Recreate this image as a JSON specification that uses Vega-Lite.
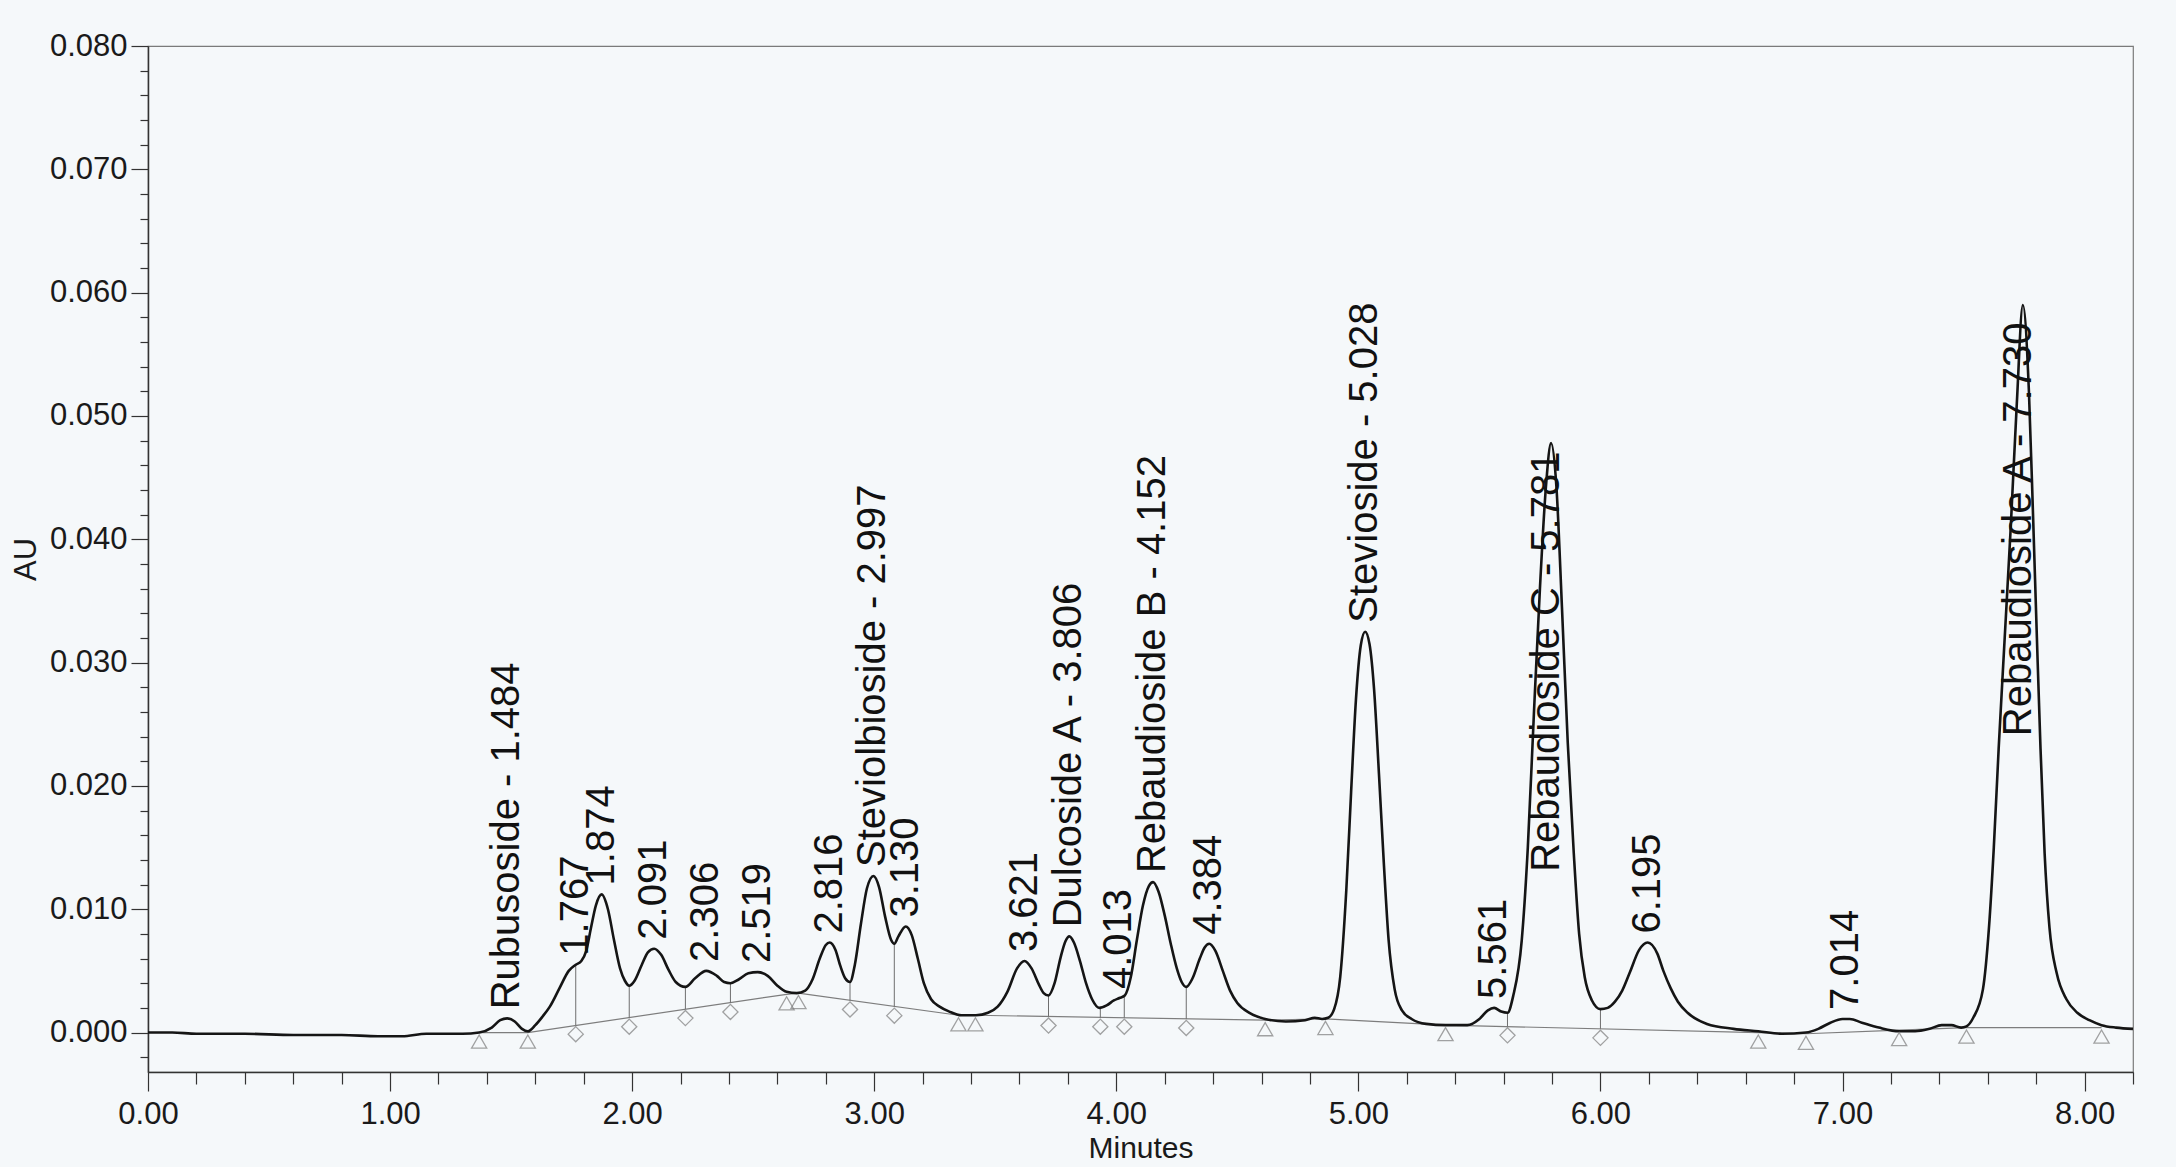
{
  "$schema": "https://vega.github.io/schema/vega-lite/v6.json",
  "width": 1985,
  "height": 1026,
  "autosize": {"type": "none"},
  "padding": {"left": 148, "top": 46, "right": 43, "bottom": 95},
  "background": "#f5f8fa",
  "config": {
    "view": {"stroke": "#7a7a7a", "strokeWidth": 1.2},
    "font": "Liberation Sans",
    "axis": {"grid": false, "labelFont": "Liberation Sans", "titleFont": "Liberation Sans", "labelColor": "#1a1a1a", "titleColor": "#1a1a1a", "domainColor": "#333333", "tickColor": "#333333", "labelFlush": false, "labelOverlap": false, "labelBound": false, "titleFontWeight": "normal"}
  },
  "datasets": {
    "trace": [
      {"t":0.00,"au":0.0000},{"t":0.10,"au":0.0000},{"t":0.20,"au":-0.0001},{"t":0.40,"au":-0.0001},{"t":0.60,"au":-0.0002},{"t":0.80,"au":-0.0002},{"t":0.95,"au":-0.0003},{"t":1.05,"au":-0.0003},{"t":1.15,"au":-0.0001},{"t":1.30,"au":-0.0001},{"t":1.368,"au":0.0000},{"t":1.42,"au":0.0004},{"t":1.455,"au":0.0010},{"t":1.484,"au":0.00115},{"t":1.515,"au":0.0009},{"t":1.545,"au":0.0003},{"t":1.569,"au":0.0001},{"t":1.60,"au":0.0006},{"t":1.63,"au":0.0013},{"t":1.66,"au":0.0021},{"t":1.70,"au":0.0036},{"t":1.738,"au":0.0050},{"t":1.767,"au":0.0055},{"t":1.79,"au":0.0058},{"t":1.81,"au":0.0066},{"t":1.83,"au":0.0085},{"t":1.85,"au":0.0103},{"t":1.874,"au":0.0112},{"t":1.90,"au":0.0100},{"t":1.925,"au":0.0075},{"t":1.95,"au":0.0052},{"t":1.97,"au":0.0042},{"t":1.988,"au":0.0038},{"t":2.01,"au":0.0042},{"t":2.04,"au":0.0055},{"t":2.065,"au":0.0065},{"t":2.091,"au":0.0068},{"t":2.12,"au":0.0063},{"t":2.15,"au":0.0051},{"t":2.18,"au":0.0041},{"t":2.22,"au":0.0037},{"t":2.26,"au":0.0044},{"t":2.306,"au":0.0050},{"t":2.35,"au":0.0046},{"t":2.38,"au":0.0041},{"t":2.406,"au":0.0040},{"t":2.44,"au":0.0043},{"t":2.48,"au":0.0048},{"t":2.519,"au":0.0049},{"t":2.56,"au":0.0046},{"t":2.60,"au":0.0038},{"t":2.638,"au":0.0033},{"t":2.68,"au":0.0032},{"t":2.715,"au":0.0034},{"t":2.745,"au":0.0043},{"t":2.775,"au":0.0060},{"t":2.80,"au":0.0071},{"t":2.816,"au":0.0073},{"t":2.84,"au":0.0067},{"t":2.86,"au":0.0054},{"t":2.88,"au":0.0044},{"t":2.90,"au":0.0041},{"t":2.92,"au":0.0055},{"t":2.945,"au":0.0088},{"t":2.97,"au":0.0117},{"t":2.997,"au":0.0127},{"t":3.02,"au":0.0118},{"t":3.045,"au":0.0094},{"t":3.07,"au":0.0075},{"t":3.083,"au":0.0072},{"t":3.10,"au":0.0078},{"t":3.13,"au":0.0086},{"t":3.155,"au":0.0079},{"t":3.18,"au":0.0060},{"t":3.205,"au":0.0040},{"t":3.235,"au":0.0027},{"t":3.27,"au":0.0021},{"t":3.31,"au":0.0017},{"t":3.36,"au":0.0014},{"t":3.42,"au":0.0014},{"t":3.47,"au":0.0016},{"t":3.51,"au":0.0021},{"t":3.55,"au":0.0033},{"t":3.59,"au":0.0052},{"t":3.621,"au":0.0058},{"t":3.65,"au":0.0052},{"t":3.68,"au":0.0039},{"t":3.70,"au":0.0032},{"t":3.72,"au":0.0030},{"t":3.745,"au":0.0040},{"t":3.77,"au":0.0061},{"t":3.79,"au":0.0074},{"t":3.806,"au":0.0078},{"t":3.825,"au":0.0073},{"t":3.85,"au":0.0058},{"t":3.875,"au":0.0040},{"t":3.90,"au":0.0027},{"t":3.93,"au":0.0020},{"t":3.96,"au":0.0022},{"t":3.99,"au":0.0026},{"t":4.013,"au":0.0028},{"t":4.035,"au":0.0030},{"t":4.06,"au":0.0045},{"t":4.085,"au":0.0075},{"t":4.11,"au":0.0103},{"t":4.135,"au":0.0119},{"t":4.152,"au":0.0122},{"t":4.175,"au":0.0114},{"t":4.20,"au":0.0095},{"t":4.225,"au":0.0072},{"t":4.25,"au":0.0052},{"t":4.27,"au":0.0041},{"t":4.289,"au":0.0037},{"t":4.315,"au":0.0044},{"t":4.345,"au":0.0060},{"t":4.365,"au":0.0069},{"t":4.384,"au":0.0072},{"t":4.41,"au":0.0066},{"t":4.44,"au":0.0050},{"t":4.47,"au":0.0034},{"t":4.50,"au":0.0024},{"t":4.55,"au":0.0016},{"t":4.615,"au":0.0011},{"t":4.70,"au":0.0009},{"t":4.78,"au":0.0010},{"t":4.82,"au":0.0012},{"t":4.85,"au":0.0011},{"t":4.875,"au":0.0012},{"t":4.90,"au":0.0019},{"t":4.925,"au":0.0045},{"t":4.95,"au":0.0115},{"t":4.97,"au":0.0195},{"t":4.99,"au":0.0270},{"t":5.01,"au":0.0314},{"t":5.028,"au":0.0325},{"t":5.046,"au":0.0315},{"t":5.065,"au":0.0278},{"t":5.085,"au":0.0210},{"t":5.105,"au":0.0138},{"t":5.125,"au":0.0075},{"t":5.15,"au":0.0035},{"t":5.18,"au":0.0018},{"t":5.22,"au":0.0011},{"t":5.28,"au":0.0007},{"t":5.36,"au":0.0006},{"t":5.45,"au":0.0006},{"t":5.50,"au":0.0011},{"t":5.535,"au":0.0018},{"t":5.561,"au":0.0020},{"t":5.59,"au":0.0017},{"t":5.616,"au":0.0016},{"t":5.64,"au":0.0030},{"t":5.675,"au":0.0075},{"t":5.70,"au":0.0150},{"t":5.725,"au":0.0258},{"t":5.75,"au":0.0360},{"t":5.775,"au":0.0443},{"t":5.796,"au":0.0478},{"t":5.818,"au":0.0443},{"t":5.841,"au":0.0345},{"t":5.865,"au":0.0235},{"t":5.89,"au":0.0145},{"t":5.912,"au":0.0080},{"t":5.935,"au":0.0045},{"t":5.965,"au":0.0026},{"t":6.00,"au":0.0019},{"t":6.03,"au":0.0020},{"t":6.06,"au":0.0025},{"t":6.09,"au":0.0034},{"t":6.12,"au":0.0048},{"t":6.16,"au":0.0067},{"t":6.195,"au":0.0073},{"t":6.235,"au":0.0064},{"t":6.26,"au":0.0050},{"t":6.29,"au":0.0036},{"t":6.32,"au":0.0025},{"t":6.36,"au":0.0016},{"t":6.44,"au":0.0007},{"t":6.55,"au":0.0003},{"t":6.652,"au":0.0001},{"t":6.75,"au":-0.0001},{"t":6.849,"au":0.0000},{"t":6.90,"au":0.0003},{"t":6.95,"au":0.0008},{"t":7.00,"au":0.0011},{"t":7.03,"au":0.0011},{"t":7.08,"au":0.0008},{"t":7.15,"au":0.0004},{"t":7.234,"au":0.0001},{"t":7.30,"au":0.0001},{"t":7.36,"au":0.0003},{"t":7.41,"au":0.0006},{"t":7.45,"au":0.0006},{"t":7.49,"au":0.0004},{"t":7.512,"au":0.0005},{"t":7.54,"au":0.0012},{"t":7.58,"au":0.0035},{"t":7.605,"au":0.0085},{"t":7.625,"au":0.0150},{"t":7.645,"au":0.0230},{"t":7.67,"au":0.0320},{"t":7.695,"au":0.0410},{"t":7.72,"au":0.0510},{"t":7.745,"au":0.0590},{"t":7.77,"au":0.0520},{"t":7.787,"au":0.0420},{"t":7.803,"au":0.0320},{"t":7.818,"au":0.0230},{"t":7.835,"au":0.0145},{"t":7.855,"au":0.0085},{"t":7.885,"au":0.0048},{"t":7.925,"au":0.0027},{"t":7.97,"au":0.0016},{"t":8.02,"au":0.0010},{"t":8.07,"au":0.0006},{"t":8.13,"au":0.0004},{"t":8.20,"au":0.0003}
    ],
    "baseline": [
      {"t":1.368,"au":0.0000},{"t":1.569,"au":0.0000},{"t":2.638,"au":0.0031},{"t":2.687,"au":0.0032},{"t":3.348,"au":0.0014},{"t":3.418,"au":0.0014},{"t":4.615,"au":0.0010},{"t":4.864,"au":0.0011},{"t":5.36,"au":0.0006},{"t":6.652,"au":0.0000},{"t":6.849,"au":-0.0001},{"t":7.234,"au":0.0002},{"t":7.512,"au":0.0004},{"t":8.07,"au":0.0004}
    ],
    "markers": [
      {"t":1.368,"au":0.0000,"kind":"start"},{"t":1.569,"au":0.0000,"kind":"start"},{"t":2.638,"au":0.0031,"kind":"start"},{"t":2.687,"au":0.0032,"kind":"start"},{"t":3.348,"au":0.0014,"kind":"start"},{"t":3.418,"au":0.0014,"kind":"start"},{"t":4.615,"au":0.0010,"kind":"start"},{"t":4.864,"au":0.0011,"kind":"start"},{"t":5.36,"au":0.0006,"kind":"start"},{"t":6.652,"au":0.0000,"kind":"start"},{"t":6.849,"au":-0.0001,"kind":"start"},{"t":7.234,"au":0.0002,"kind":"start"},{"t":7.512,"au":0.0004,"kind":"start"},{"t":8.07,"au":0.0004,"kind":"start"},
      {"t":1.767,"au":0.0006,"kind":"drop"},{"t":1.988,"au":0.0012,"kind":"drop"},{"t":2.22,"au":0.0019,"kind":"drop"},{"t":2.406,"au":0.0024,"kind":"drop"},{"t":2.90,"au":0.0026,"kind":"drop"},{"t":3.083,"au":0.0021,"kind":"drop"},{"t":3.72,"au":0.0013,"kind":"drop"},{"t":3.934,"au":0.0012,"kind":"drop"},{"t":4.033,"au":0.0012,"kind":"drop"},{"t":4.289,"au":0.0011,"kind":"drop"},{"t":5.616,"au":0.0005,"kind":"drop"},{"t":6.00,"au":0.0003,"kind":"drop"}
    ],
    "drops": [
      {"t":1.767,"top":0.0055,"base":0.0006},{"t":1.988,"top":0.0038,"base":0.0012},{"t":2.22,"top":0.0037,"base":0.0019},{"t":2.406,"top":0.0040,"base":0.0024},{"t":2.90,"top":0.0041,"base":0.0026},{"t":3.083,"top":0.0072,"base":0.0021},{"t":3.72,"top":0.0030,"base":0.0013},{"t":3.934,"top":0.0020,"base":0.0012},{"t":4.033,"top":0.0030,"base":0.0012},{"t":4.289,"top":0.0037,"base":0.0011},{"t":5.616,"top":0.0016,"base":0.0005},{"t":6.00,"top":0.0019,"base":0.0003}
    ],
    "labels": [
      {"t":1.484,"au":0.00115,"label":"Rubusoside - 1.484"},
      {"t":1.767,"au":0.0055,"label":"1.767"},
      {"t":1.874,"au":0.0112,"label":"1.874"},
      {"t":2.091,"au":0.0068,"label":"2.091"},
      {"t":2.306,"au":0.0050,"label":"2.306"},
      {"t":2.519,"au":0.0049,"label":"2.519"},
      {"t":2.816,"au":0.0073,"label":"2.816"},
      {"t":2.997,"au":0.0127,"label":"Steviolbioside - 2.997"},
      {"t":3.130,"au":0.0086,"label":"3.130"},
      {"t":3.621,"au":0.0058,"label":"3.621"},
      {"t":3.806,"au":0.0078,"label":"Dulcoside A - 3.806"},
      {"t":4.013,"au":0.0028,"label":"4.013"},
      {"t":4.152,"au":0.0122,"label":"Rebaudioside B - 4.152"},
      {"t":4.384,"au":0.0072,"label":"4.384"},
      {"t":5.028,"au":0.0325,"label":"Stevioside - 5.028"},
      {"t":5.561,"au":0.0020,"label":"5.561"},
      {"t":5.781,"au":0.0123,"label":"Rebaudioside C - 5.781"},
      {"t":6.195,"au":0.0073,"label":"6.195"},
      {"t":7.014,"au":0.0011,"label":"7.014"},
      {"t":7.730,"au":0.0233,"label":"Rebaudioside A - 7.730"}
    ]
  },
  "layer": [
    {
      "data": {"name": "baseline"},
      "mark": {"type": "line", "color": "#7d7d7d", "strokeWidth": 1.2},
      "encoding": {
        "x": {"field": "t", "type": "quantitative", "scale": {"domain": [0, 8.2], "nice": false, "zero": false},
          "axis": {"orient": "bottom", "values": [0.2,0.4,0.6,0.8,1.2,1.4,1.6,1.8,2.2,2.4,2.6,2.8,3.2,3.4,3.6,3.8,4.2,4.4,4.6,4.8,5.2,5.4,5.6,5.8,6.2,6.4,6.6,6.8,7.2,7.4,7.6,7.8,8.2], "labels": false, "domain": false, "tickSize": 12, "tickWidth": 1.2, "title": null}},
        "y": {"field": "au", "type": "quantitative", "scale": {"domain": [-0.0032, 0.08], "nice": false, "zero": false},
          "axis": {"orient": "left", "values": [-0.002,0.002,0.004,0.006,0.008,0.012,0.014,0.016,0.018,0.022,0.024,0.026,0.028,0.032,0.034,0.036,0.038,0.042,0.044,0.046,0.048,0.052,0.054,0.056,0.058,0.062,0.064,0.066,0.068,0.072,0.074,0.076,0.078], "labels": false, "domain": false, "tickSize": 8, "tickWidth": 1.2, "title": null}}
      }
    },
    {
      "data": {"name": "drops"},
      "mark": {"type": "rule", "color": "#6e6e6e", "strokeWidth": 1},
      "encoding": {
        "x": {"field": "t", "type": "quantitative", "axis": null},
        "y": {"field": "top", "type": "quantitative", "axis": null},
        "y2": {"field": "base"}
      }
    },
    {
      "data": {"name": "trace"},
      "mark": {"type": "line", "color": "#151515", "strokeWidth": 2.6, "interpolate": "monotone"},
      "encoding": {
        "x": {"field": "t", "type": "quantitative",
          "axis": {"orient": "bottom", "values": [0,1,2,3,4,5,6,7,8], "format": ".2f", "tickSize": 19, "tickWidth": 1.2, "domainWidth": 1.5, "labelFontSize": 31, "labelPadding": 8, "title": "Minutes", "titleFontSize": 30, "titlePadding": 4}},
        "y": {"field": "au", "type": "quantitative",
          "axis": {"orient": "left", "values": [0,0.01,0.02,0.03,0.04,0.05,0.06,0.07,0.08], "format": ".3f", "tickSize": 17, "tickWidth": 1.2, "domainWidth": 1.5, "labelFontSize": 31, "labelPadding": 4, "title": "AU", "titleFontSize": 31, "titlePadding": 7}}
      }
    },
    {
      "data": {"name": "markers"},
      "mark": {"type": "point", "filled": false, "stroke": "#7d7d7d", "strokeWidth": 1.3, "size": 230, "yOffset": 9},
      "encoding": {
        "x": {"field": "t", "type": "quantitative", "axis": null},
        "y": {"field": "au", "type": "quantitative", "axis": null},
        "shape": {"field": "kind", "type": "nominal", "scale": {"domain": ["start", "drop"], "range": ["triangle-up", "diamond"]}, "legend": null}
      }
    },
    {
      "data": {"name": "labels"},
      "mark": {"type": "text", "angle": 270, "align": "left", "baseline": "middle", "dx": 9, "fontSize": 40, "font": "Liberation Sans", "color": "#111111"},
      "encoding": {
        "x": {"field": "t", "type": "quantitative", "axis": null},
        "y": {"field": "au", "type": "quantitative", "axis": null},
        "text": {"field": "label"}
      }
    }
  ],
  "resolve": {"axis": {"x": "independent", "y": "independent"}}
}
